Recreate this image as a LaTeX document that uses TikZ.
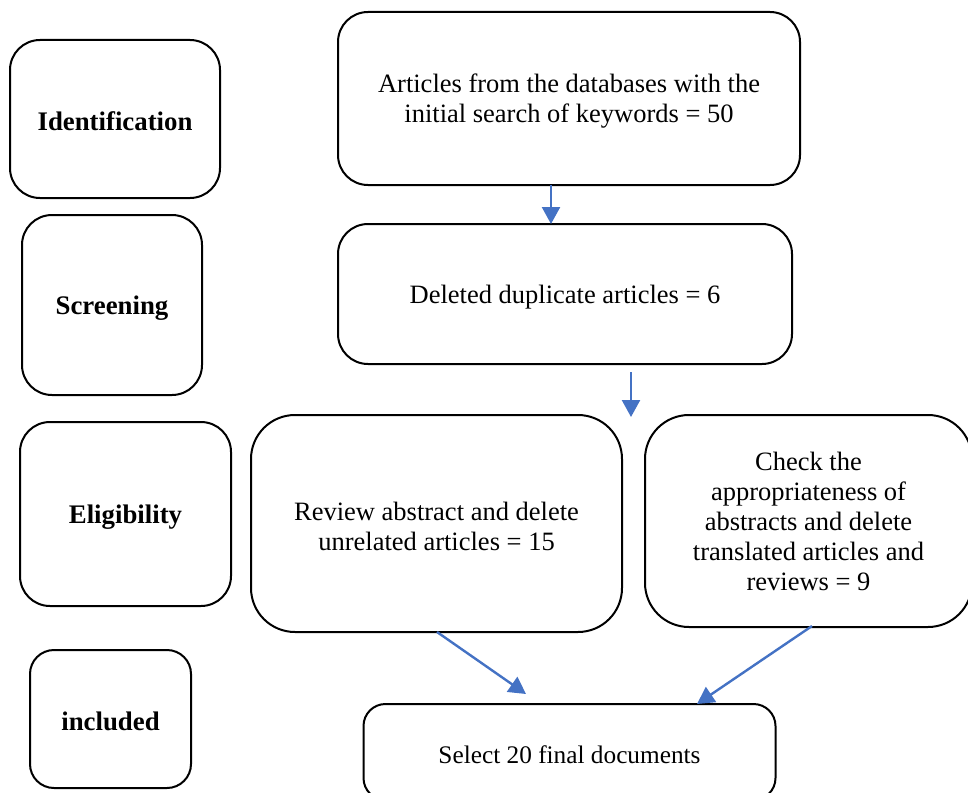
\documentclass[tikz,border=0pt]{standalone}
\usepackage{fontspec}
\setmainfont{Liberation Serif}
\usetikzlibrary{arrows.meta}
\definecolor{arrblue}{HTML}{4472C4}
\newcommand\topstrut{\rule{0pt}{24pt}}
\tikzset{
  boxbase/.style={draw=black, line width=2pt, rounded corners=#1, align=center, inner sep=0pt},
  boxbase/.default=30pt,
  box/.style={boxbase=#1, font=\fontsize{26.5}{30}\selectfont},
  box/.default=30pt,
  lbl/.style={boxbase=#1, font=\fontsize{26.8}{30}\selectfont\bfseries},
  lbl/.default=30pt,
  arr/.style={draw=arrblue, line width=2.4pt, -{Triangle[length=17pt,width=18pt]}}
}
\begin{document}
\begin{tikzpicture}[x=1pt,y=-1pt]
\path[use as bounding box, clip] (0,0) rectangle (968,792);
% stage labels
\node[lbl, minimum width=210pt, minimum height=158pt] (ident) at (115,119) {\topstrut Identification};
\node[lbl, minimum width=180pt, minimum height=180pt] (screen) at (112,305) {\topstrut Screening};
\node[lbl, minimum width=211pt, minimum height=184pt] (elig) at (125.5,514) {\topstrut Eligibility};
\node[lbl=24pt, minimum width=161pt, minimum height=138pt] (incl) at (110.5,719) {\topstrut included};
% flow boxes
\node[box, minimum width=462pt, minimum height=173pt] (art) at (569,98.5) {\topstrut Articles from the databases with the\\initial search of keywords = 50};
\node[box, minimum width=454pt, minimum height=140pt] (del) at (565,294) {\topstrut Deleted duplicate articles = 6};
\node[box=44pt, minimum width=371pt, minimum height=217pt] (rev) at (436.5,523.5) {\topstrut Review abstract and delete\\unrelated articles = 15};
\node[box=44pt, minimum width=327pt, minimum height=212pt] (chk) at (808.5,521) {Check the\\appropriateness of\\abstracts and delete\\translated articles and\\reviews = 9};
\node[boxbase=22pt, font=\fontsize{25.3}{30}\selectfont, minimum width=412pt, minimum height=96pt] (sel) at (569.5,752) {\topstrut Select 20 final documents};
% connectors
\coordinate (a1s) at (551,185);
\coordinate (a1e) at (551,224);
\coordinate (a2s) at (631,372);
\coordinate (a2e) at (631,417);
\coordinate (a3s) at (437,632);
\coordinate (a3e) at (526,694);
\coordinate (a4s) at (812,626);
\coordinate (a4e) at (697,704);
\draw[arr] (a1s) -- (a1e);
\draw[arr] (a2s) -- (a2e);
\draw[arr] (a3s) -- (a3e);
\draw[arr] (a4s) -- (a4e);
\end{tikzpicture}
\end{document}
